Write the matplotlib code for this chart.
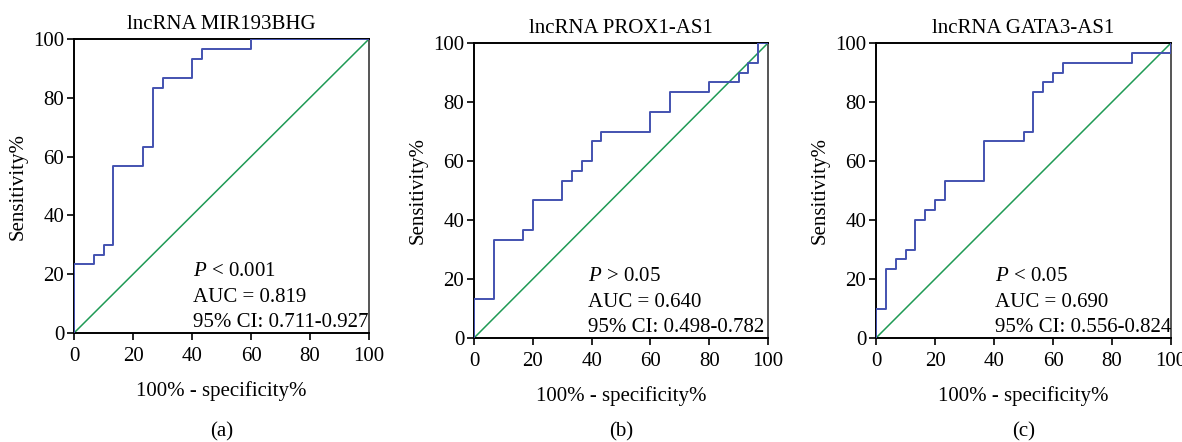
import matplotlib
matplotlib.use("Agg")
import matplotlib.pyplot as plt

# ---------- ROC step points (100% - specificity%, sensitivity%) ----------
titles = ["lncRNA MIR193BHG", "lncRNA PROX1-AS1", "lncRNA GATA3-AS1"]
panel_tags = ["(a)", "(b)", "(c)"]

fpr_a = [0, 0, 6.67, 6.67, 10, 10, 13.3, 13.3, 23.3, 23.3, 26.7, 26.7, 30, 30,
         40, 40, 43.3, 43.3, 60, 60, 100]
tpr_a = [0, 23.3, 23.3, 26.7, 26.7, 30, 30, 56.7, 56.7, 63.3, 63.3, 83.3, 83.3, 86.7,
         86.7, 93.3, 93.3, 96.7, 96.7, 100, 100]

fpr_b = [0, 0, 6.67, 6.67, 16.7, 16.7, 20, 20, 30, 30, 33.3, 33.3, 36.7, 36.7,
         40, 40, 43.3, 43.3, 60, 60, 66.7, 66.7, 80, 80, 90, 90, 93.3, 93.3,
         96.7, 96.7, 100]
tpr_b = [0, 13.3, 13.3, 33.3, 33.3, 36.7, 36.7, 46.7, 46.7, 53.3, 53.3, 56.7, 56.7, 60,
         60, 66.7, 66.7, 70, 70, 76.7, 76.7, 83.3, 83.3, 86.7, 86.7, 90, 90, 93.3,
         93.3, 100, 100]

fpr_c = [0, 0, 3.33, 3.33, 6.67, 6.67, 10, 10, 13.3, 13.3, 16.7, 16.7, 20, 20,
         23.3, 23.3, 36.7, 36.7, 50, 50, 53.3, 53.3, 56.7, 56.7, 60, 60, 63.3, 63.3,
         86.7, 86.7, 100, 100]
tpr_c = [0, 10, 10, 23.3, 23.3, 26.7, 26.7, 30, 30, 40, 40, 43.3, 43.3, 46.7,
         46.7, 53.3, 53.3, 66.7, 66.7, 70, 70, 83.3, 83.3, 86.7, 86.7, 90, 90, 93.3,
         93.3, 96.7, 96.7, 100]

p_texts = ["< 0.001", "> 0.05", "< 0.05"]
auc_values = ["0.819", "0.640", "0.690"]
ci_texts = ["0.711-0.927", "0.498-0.782", "0.556-0.824"]

curves = [(fpr_a, tpr_a), (fpr_b, tpr_b), (fpr_c, tpr_c)]
ticks = [0, 20, 40, 60, 80, 100]

plt.rcParams['font.family'] = ['Liberation Serif', 'DejaVu Serif']
plt.rcParams['font.size'] = 15
plt.rcParams['mathtext.fontset'] = 'custom'
plt.rcParams['mathtext.it'] = 'Liberation Serif:italic'
plt.rcParams['mathtext.rm'] = 'Liberation Serif'

W, H = 1182, 442
fig = plt.figure(figsize=(W / 100, H / 100), dpi=100)

# axes boxes in pixels: left, top, right, bottom
boxes = [(74, 39, 369, 333), (474, 43, 768, 338), (876, 43, 1171, 338)]
text_x = [40.5, 38.8, 40.3]
fs = 15

blue = "#4352b0"
green = "#1f9a55"

for i, (l, t, r, b) in enumerate(boxes):
    ax = fig.add_axes([l / W, 1 - b / H, (r - l) / W, (b - t) / H])
    fx, ty = curves[i]
    ax.plot([0, 100], [0, 100], color=green, lw=1.1, zorder=2)
    ax.plot(fx, ty, color=blue, lw=1.4, zorder=3)
    ax.set_xlim(0, 100)
    ax.set_ylim(0, 100)
    ax.set_xticks(ticks)
    ax.set_yticks(ticks)
    ax.tick_params(direction='out', length=5, width=1.2, labelsize=fs)
    ax.tick_params(axis='x', pad=5)
    ax.tick_params(axis='y', pad=2)
    for s in ax.spines.values():
        s.set_linewidth(1.4)
        s.set_color("black")
    ax.spines['right'].set_color("#555555")
    ax.set_title(titles[i], fontsize=fs, pad=7)
    ax.set_xlabel("100% - specificity%", fontsize=fs, labelpad=11)
    ax.set_ylabel("Sensitivity%", fontsize=fs, labelpad=4)

    ax.text(text_x[i], 21, "$P$ " + p_texts[i], fontsize=fs, va='center', ha='left')
    ax.text(text_x[i], 12.2, "AUC = " + auc_values[i], fontsize=fs, va='center', ha='left')
    ax.text(text_x[i], 3.5, "95% CI: " + ci_texts[i], fontsize=fs, va='center', ha='left')

    fig.text((l + r) / 2 / W, 1 - 432 / H, panel_tags[i], fontsize=fs,
             ha='center', va='center')

fig.savefig("out.png", dpi=100)
